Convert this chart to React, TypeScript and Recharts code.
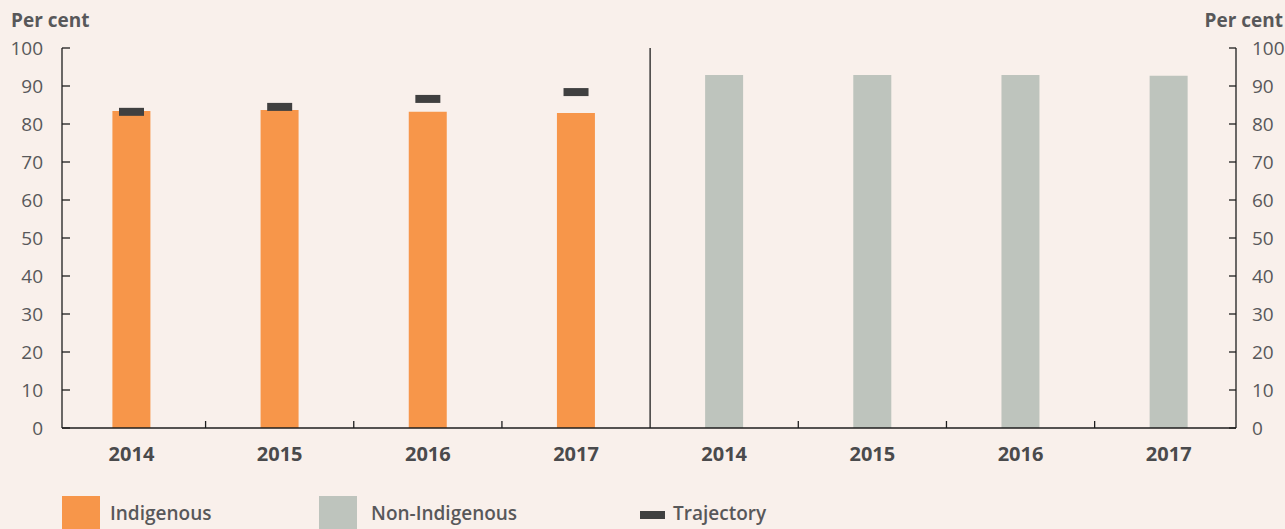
import React from 'react';
import { ComposedChart, Bar, Scatter, XAxis, YAxis, ReferenceLine } from 'recharts';

const years = ['2014', '2015', '2016', '2017'];
const indigenous = [83.4, 83.7, 83.2, 82.9];
const nonIndigenous = [92.9, 92.9, 92.9, 92.7];
const trajectory = [83.2, 84.5, 86.6, 88.4];
const yTicks = [0, 10, 20, 30, 40, 50, 60, 70, 80, 90, 100];
const xLabelTicks = [0, 1, 2, 3, 4, 5, 6, 7];
const xMarkTicks = [0.5, 1.5, 2.5, 4.5, 5.5, 6.5];
const xDomain = [-0.469, 7.454];
const dividerPos = 3.5;

const rows = [
  ...years.map((year, i) => ({ pos: i, year, indigenous: indigenous[i] })),
  ...years.map((year, i) => ({ pos: i + 4, year, nonIndigenous: nonIndigenous[i] })),
];
const trajRows = years.map((year, i) => ({ pos: i, year, trajectory: trajectory[i] }));
const allXTicks = [...xLabelTicks, ...xMarkTicks].sort((a, b) => a - b);

const BG = '#f9f0eb';
const ORANGE = '#f7964a';
const GREY = '#bec4bd';
const DARK = '#404040';
const AXIS = '#1e1e1e';
const TEXT = '#58585a';
const FONT = '"Open Sans", Lato, sans-serif';

const LeftTick = (p: any) => (
  <g>
    <line x1={p.x + 19} x2={p.x + 27} y1={p.y} y2={p.y} stroke={AXIS} strokeWidth={1.3} />
    <text x={p.x} y={p.y} dy="0.36em" textAnchor="end" fill={TEXT} fontSize={19} fontFamily={FONT}>
      {p.payload.value}
    </text>
  </g>
);

const RightTick = (p: any) => (
  <g>
    <line x1={p.x - 16} x2={p.x - 23} y1={p.y} y2={p.y} stroke={AXIS} strokeWidth={1.3} />
    <text x={p.x} y={p.y} dy="0.36em" textAnchor="start" fill={TEXT} fontSize={19} fontFamily={FONT}>
      {p.payload.value}
    </text>
  </g>
);

const XTick = (p: any) => {
  const v = p.payload.value;
  if (Number.isInteger(v)) {
    const row = rows.find((r) => r.pos === v);
    return (
      <text x={p.x} y={p.y} dy="0.71em" textAnchor="middle" fill="#4a4a4c" fontSize={20} fontWeight={700} fontFamily={FONT}>
        {row ? row.year : ''}
      </text>
    );
  }
  return <line x1={p.x} x2={p.x} y1={p.y - 19} y2={p.y - 26} stroke={AXIS} strokeWidth={1.3} />;
};

const TrajShape = (p: any) => (
  <rect x={p.cx - 12.5} y={p.cy - 4} width={25} height={8} fill={DARK} />
);

const legendText: React.CSSProperties = {
  position: 'absolute',
  top: 502,
  fontFamily: FONT,
  fontSize: 19,
  fontWeight: 600,
  color: TEXT,
  lineHeight: '22px',
  whiteSpace: 'nowrap',
};

const perCent: React.CSSProperties = {
  position: 'absolute',
  top: 8,
  fontFamily: FONT,
  fontSize: 19,
  fontWeight: 700,
  color: TEXT,
  lineHeight: '24px',
  whiteSpace: 'nowrap',
};

export default function App() {
  return (
    <div style={{ position: 'relative', width: 1285, height: 529, background: BG, overflow: 'hidden' }}>
      <style>{'body{margin:0}'}</style>
      <div style={{ ...perCent, left: 11 }}>Per cent</div>
      <div style={{ ...perCent, right: 2 }}>Per cent</div>
      <ComposedChart width={1285} height={529} data={rows} margin={{ top: 48, right: 0, bottom: 61, left: 0 }}>
        <XAxis
          dataKey="pos"
          type="number"
          domain={xDomain}
          allowDataOverflow
          ticks={allXTicks}
          interval={0}
          tick={<XTick />}
          tickLine={false}
          tickSize={0}
          tickMargin={19}
          height={40}
          axisLine={{ stroke: AXIS, strokeWidth: 1.3 }}
        />
        <YAxis
          yAxisId="left"
          orientation="left"
          domain={[0, 100]}
          ticks={yTicks}
          interval={0}
          width={62}
          tick={<LeftTick />}
          tickLine={false}
          tickSize={0}
          tickMargin={19}
          axisLine={{ stroke: AXIS, strokeWidth: 1.3 }}
        />
        <YAxis
          yAxisId="right"
          orientation="right"
          domain={[0, 100]}
          ticks={yTicks}
          interval={0}
          width={49}
          tick={<RightTick />}
          tickLine={false}
          tickSize={0}
          tickMargin={16}
          axisLine={{ stroke: AXIS, strokeWidth: 1.3 }}
        />
        <ReferenceLine yAxisId="left" x={dividerPos} stroke={AXIS} strokeWidth={1.3} />
        <Bar yAxisId="left" dataKey="indigenous" stackId="s" fill={ORANGE} barSize={38} isAnimationActive={false} />
        <Bar yAxisId="left" dataKey="nonIndigenous" stackId="s" fill={GREY} barSize={38} isAnimationActive={false} />
        <Scatter yAxisId="right" data={trajRows} dataKey="trajectory" shape={<TrajShape />} isAnimationActive={false} />
      </ComposedChart>
      <div style={{ position: 'absolute', left: 62, top: 496, width: 38, height: 40, background: ORANGE }} />
      <div style={{ ...legendText, left: 110 }}>Indigenous</div>
      <div style={{ position: 'absolute', left: 319, top: 496, width: 38, height: 40, background: GREY }} />
      <div style={{ ...legendText, left: 371 }}>Non-Indigenous</div>
      <div style={{ position: 'absolute', left: 640, top: 511, width: 25, height: 8, background: DARK }} />
      <div style={{ ...legendText, left: 673 }}>Trajectory</div>
    </div>
  );
}
